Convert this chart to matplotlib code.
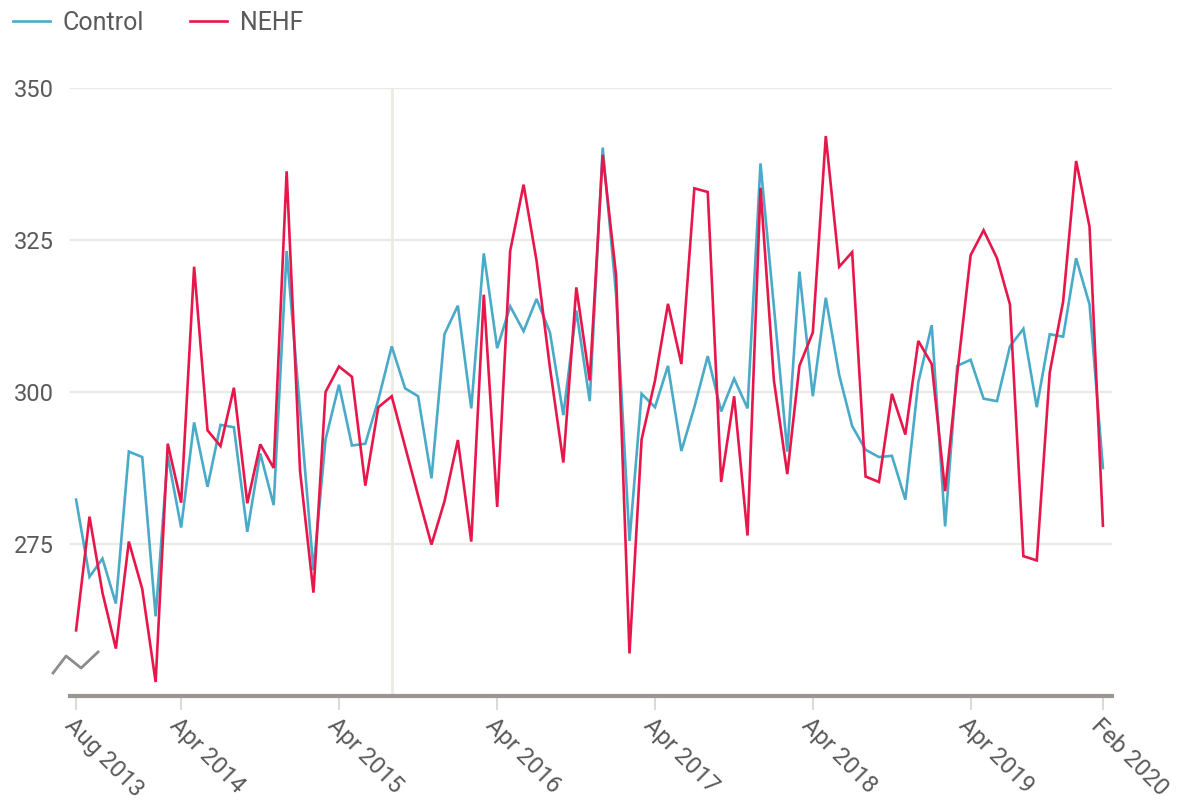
import numpy as np
import pandas as pd
import matplotlib
matplotlib.use("Agg")
import matplotlib.pyplot as plt
from matplotlib.lines import Line2D

plt.rcParams['font.family'] = ['Roboto', 'DejaVu Sans']

# monthly series, Aug 2013 .. Feb 2020
months = pd.date_range("2013-08-01", periods=79, freq="MS")

control = [282.3, 269.6, 272.6, 265.2, 290.2, 289.3, 263.1, 289.5, 277.7, 295.0,
           284.4, 294.6, 294.2, 277.0, 289.9, 281.4, 323.2, 297.0, 270.7, 292.2,
           301.2, 291.2, 291.5, 298.7, 307.5, 300.6, 299.3, 285.8, 309.5, 314.2,
           297.3, 322.8, 307.2, 314.1, 310.0, 315.3, 309.8, 296.2, 313.4, 298.5,
           340.2, 316.0, 275.5, 299.7, 297.5, 304.3, 290.3, 297.5, 305.9, 296.8,
           302.2, 297.3, 337.6, 314.0, 290.2, 319.8, 299.3, 315.5, 302.8, 294.4,
           290.5, 289.3, 289.5, 282.3, 301.6, 311.0, 277.9, 304.3, 305.3, 298.9,
           298.5, 307.5, 310.4, 297.5, 309.5, 309.1, 322.0, 314.4, 287.5]

nehf = [260.8, 279.5, 267.0, 257.8, 275.4, 267.6, 252.3, 291.5, 281.8, 320.6,
        293.7, 291.1, 300.7, 281.7, 291.4, 287.5, 336.3, 287.0, 267.0, 300.0,
        304.2, 302.5, 284.6, 297.5, 299.3, 291.0, 283.0, 274.9, 282.0, 292.1,
        275.4, 316.0, 281.1, 323.2, 334.1, 321.6, 304.0, 288.4, 317.2, 301.9,
        339.0, 319.2, 257.0, 292.2, 301.9, 314.5, 304.6, 333.5, 332.9, 285.2,
        299.3, 276.4, 333.6, 301.9, 286.5, 304.3, 309.8, 342.1, 320.6, 323.0,
        286.1, 285.2, 299.7, 293.0, 308.4, 304.6, 283.7, 303.0, 322.5, 326.6,
        322.0, 314.4, 273.0, 272.3, 303.2, 314.9, 338.0, 327.2, 278.0]

tick_months = ["2013-08", "2014-04", "2015-04", "2016-04", "2017-04",
               "2018-04", "2019-04", "2020-02"]
tick_labels = ["Aug 2013", "Apr 2014", "Apr 2015", "Apr 2016", "Apr 2017",
               "Apr 2018", "Apr 2019", "Feb 2020"]
y_ticks = [275, 300, 325, 350]
hover_month = "2015-08"

TEAL = "#4aabc8"
RED = "#e8174b"
TEXT = "#5a5a5a"
GRID = "#ebebe6"

fig = plt.figure(figsize=(11.85, 8), dpi=100)
ax = fig.add_axes([0.0591, 0.13, 0.8793, 0.76])

ax.plot(months, control, color=TEAL, lw=1.9, label="Control", solid_joinstyle="miter")
ax.plot(months, nehf, color=RED, lw=1.9, label="NEHF", solid_joinstyle="miter")

ax.set_ylim(250, 350)
ax.set_xlim(months[0] - pd.Timedelta(days=14), months[-1] + pd.Timedelta(days=21))

ax.set_yticks(y_ticks)
ax.set_yticklabels([str(v) for v in y_ticks])
for v in y_ticks:
    ax.axhline(v, color=GRID, lw=1.6, zorder=0)
ax.axvline(pd.Timestamp(hover_month), color=GRID, lw=2, zorder=0)

ax.set_xticks([pd.Timestamp(m) for m in tick_months])
ax.set_xticklabels(tick_labels)
plt.setp(ax.get_xticklabels(), rotation=-45, ha="left", va="top",
         rotation_mode="anchor")

for s in ["top", "right", "left"]:
    ax.spines[s].set_visible(False)
ax.spines["bottom"].set_color("#9a9693")
ax.spines["bottom"].set_linewidth(3)

ax.tick_params(axis="y", length=0, pad=11.5, labelsize=17, labelcolor=TEXT)
ax.tick_params(axis="x", length=10, width=1.5, color="#dcdbd5", pad=3,
               labelsize=17, labelcolor=TEXT)

# axis break marker
brk_x = [-0.0163, -0.0038, 0.0106, 0.0269]
brk_y = [0.0378, 0.0658, 0.046, 0.0724]
ax.add_line(Line2D(brk_x, brk_y, transform=ax.transAxes, color="#8c8c8c",
                   lw=2, clip_on=False))

fig.legend(loc="center left", bbox_to_anchor=(13 / 1185, 1 - 23 / 800), ncol=2,
           frameon=False, borderpad=0, borderaxespad=0, fontsize=18,
           handlelength=1.48, handletextpad=0.52, columnspacing=1.84,
           labelcolor=TEXT)

fig.savefig("out.png", dpi=100)
